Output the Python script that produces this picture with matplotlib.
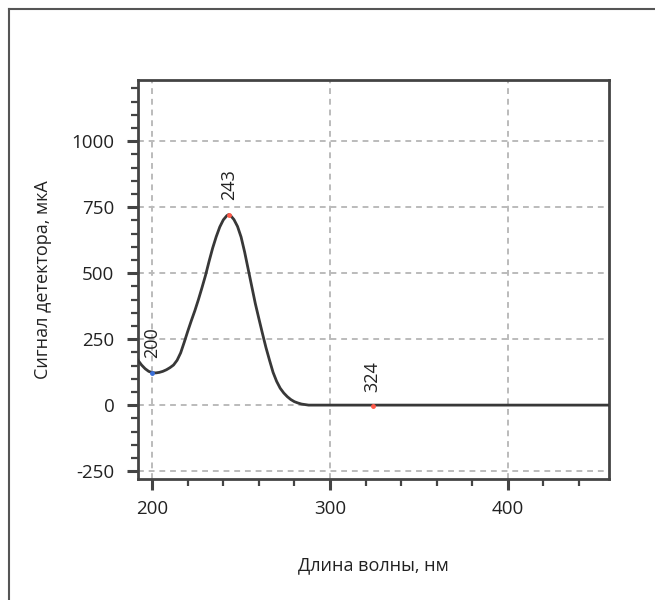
import matplotlib
matplotlib.use("Agg")
import matplotlib.pyplot as plt
from matplotlib.lines import Line2D
from matplotlib.ticker import MultipleLocator

plt.rcParams["font.family"] = ["Open Sans", "DejaVu Sans"]
plt.rcParams["axes.unicode_minus"] = False

# spectrum
wavelength = [192, 194, 196, 198, 200, 202, 204, 206, 208, 210, 212, 214, 216, 218,
              220, 222, 224, 226, 228, 230, 232, 234, 236, 238, 240, 242, 243, 244,
              246, 248, 250, 252, 254, 256, 258, 260, 262, 264, 266, 268, 270, 272,
              274, 276, 278, 280, 282, 284, 286, 288, 300, 350, 400, 460]
signal = [170, 152, 138, 128, 123, 122, 124, 128, 134, 142, 152, 170, 198, 238,
          280, 320, 358, 400, 445, 492, 545, 595, 638, 675, 702, 718, 722, 719,
          703, 677, 637, 580, 515, 450, 385, 328, 272, 218, 170, 124, 90, 64,
          46, 32, 21, 13, 8, 4, 2, 0, 0, 0, 0, 0]

peak_x = [200, 243, 324]
peak_y = [123, 722, -5]
peak_colors = ["#3a6fd8", "#ff5a4a", "#ff5a4a"]
peak_labels = ["200", "243", "324"]

x_label = "Длина волны, нм"
y_label = "Сигнал детектора, мкА"

fig = plt.figure(figsize=(6.55, 6.0), dpi=100)
ax = fig.add_axes([138 / 655, 1 - 479 / 600, 471 / 655, 399 / 600])

# outer frame (top and left edges only visible)
fig.add_artist(Line2D([9 / 655, 1.0], [1 - 8.5 / 600] * 2, transform=fig.transFigure,
                      color="#555555", linewidth=1.5))
fig.add_artist(Line2D([9 / 655] * 2, [0.0, 1 - 8.5 / 600], transform=fig.transFigure,
                      color="#555555", linewidth=1.5))

ax.plot(wavelength, signal, color="#383838", linewidth=2.0, zorder=3)
for x, y, c, lab in zip(peak_x, peak_y, peak_colors, peak_labels):
    ax.plot(x, y, "o", color=c, markersize=2.5, zorder=4)
    ax.annotate(lab, (x, y), xytext=(0, 10.5), textcoords="offset points", rotation=90,
                ha="center", va="bottom", fontsize=13, color="#222222", zorder=5)

ax.set_xlim(192, 457)
ax.set_ylim(-280, 1232)
ax.xaxis.set_major_locator(MultipleLocator(100))
ax.xaxis.set_minor_locator(MultipleLocator(20))
ax.yaxis.set_major_locator(MultipleLocator(250))
ax.yaxis.set_minor_locator(MultipleLocator(50))

ax.grid(True, which="major", color="#bbbbbb", linestyle=(0, (3, 2.5)), linewidth=1.4)
ax.set_axisbelow(True)

for sp in ax.spines.values():
    sp.set_color("#444444")
    sp.set_linewidth(2.0)

ax.tick_params(which="major", direction="out", length=8, width=2.2, color="#444444",
               labelsize=13.5, labelcolor="#222222")
ax.tick_params(axis="x", which="major", pad=7)
ax.tick_params(axis="y", which="major", pad=9)
ax.tick_params(which="minor", direction="out", length=5, width=1.6, color="#444444")

ax.set_xlabel(x_label, fontsize=13, color="#222222", labelpad=28)
ax.set_ylabel(y_label, fontsize=13, color="#222222", labelpad=14)

fig.savefig("out.png", dpi=100, facecolor="white")
